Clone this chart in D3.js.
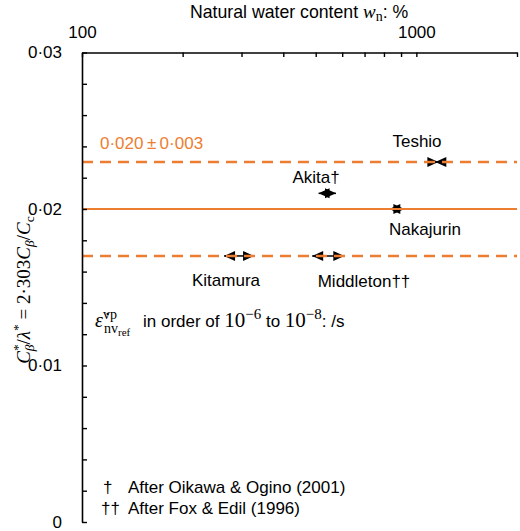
<!DOCTYPE html>
<html>
<head>
<meta charset="utf-8">
<script src="https://cdn.jsdelivr.net/npm/d3@7"></script>
<style>
  body { margin: 0; background: #fff; }
  svg { display: block; }
  text { font-family: "Liberation Sans", Arial, sans-serif; }
  .math { font-family: "Liberation Serif", "Times New Roman", serif; }
</style>
</head>
<body>
<div id="chart"></div>
<script>
// data
const sites = ["Kitamura", "Middleton††", "Nakajurin", "Akita†", "Teshio"]
const wnLow = [266, 488, 830, 510, 1079]     // %
const wnHigh = [327, 609, 921, 575, 1229]    // %
const cbRatio = [0.017, 0.017, 0.020, 0.021, 0.023]
const arrowDir = ["out", "out", "out", "out", "in"]
const meanLine = 0.020
const bandLines = [0.023, 0.017]
const xTickValues = [100, 200, 300, 400, 500, 600, 700, 800, 900, 1000, 2000]
const xTickLabels = [100, 1000]
const yTickValues = d3.range(0, 16).map(i => i * 0.002)
const yTickLabels = [0, 0.01, 0.02, 0.03]

const W = 520, H = 531
const mLeft = 82, mRight = 517, mTop = 52.5, mBottom = 522
const orange = "#ED7D31"
const fs = 17

const svg = d3.select("#chart").append("svg")
  .attr("width", W)
  .attr("height", H)

const x = d3.scaleLog().domain([100, 2000]).range([mLeft, mRight])
const y = d3.scaleLinear().domain([0, 0.03]).range([mBottom, mTop])

// markers: range of wn drawn as a double arrow
const arrowLen = 11, arrowHalf = 5
const markers = svg.append("g")
sites.forEach((s, i) => {
  const x1 = x(wnLow[i]), x2 = x(wnHigh[i]), cy = y(cbRatio[i])
  markers.append("line")
    .attr("x1", x1).attr("x2", x2).attr("y1", cy).attr("y2", cy)
    .attr("stroke", "#000").attr("stroke-width", 1.5)
  let heads
  if (arrowDir[i] === "out") {
    heads = [[x1, x1 + arrowLen], [x2, x2 - arrowLen]]
  } else {
    heads = [[x1 + arrowLen, x1], [x2 - arrowLen, x2]]
  }
  heads.forEach(([tip, base]) => {
    markers.append("path")
      .attr("d", `M${tip},${cy}L${base},${cy - arrowHalf}L${base},${cy + arrowHalf}Z`)
      .attr("fill", "#000")
  })
})

// mean and band lines
svg.append("line")
  .attr("x1", mLeft).attr("x2", mRight)
  .attr("y1", y(meanLine)).attr("y2", y(meanLine))
  .attr("stroke", orange).attr("stroke-width", 2.2)

svg.selectAll(".band").data(bandLines).join("line")
  .attr("class", "band")
  .attr("x1", mLeft).attr("x2", mRight)
  .attr("y1", d => y(d)).attr("y2", d => y(d))
  .attr("stroke", orange).attr("stroke-width", 2.4)
  .attr("stroke-dasharray", "11,7")

// axes
const fmtY = d => d === 0 ? "0" : d3.format(".2f")(d).replace(".", "·")

const xAxis = svg.append("g")
  .attr("transform", `translate(0,${mTop})`)
  .call(d3.axisTop(x)
    .tickValues(xTickValues)
    .tickSizeInner(-4.5)
    .tickSizeOuter(0)
    .tickPadding(15)
    .tickFormat(d => xTickLabels.includes(d) ? d : ""))
xAxis.select(".domain").attr("stroke-width", 1.6)
xAxis.selectAll(".tick line").attr("stroke-width", 1.4)
xAxis.selectAll("text").attr("font-size", fs).attr("fill", "#000")
  .attr("font-family", "Liberation Sans, Arial, sans-serif")

const yAxis = svg.append("g")
  .attr("transform", `translate(${mLeft},0)`)
  .call(d3.axisLeft(y)
    .tickValues(yTickValues)
    .tickSizeInner(-5)
    .tickSizeOuter(0)
    .tickPadding(20)
    .tickFormat(d => yTickLabels.some(v => Math.abs(v - d) < 1e-9) ? fmtY(d) : ""))
yAxis.select(".domain").attr("stroke-width", 1.6)
yAxis.selectAll(".tick line").attr("stroke-width", 1.4)
yAxis.selectAll("text").attr("font-size", fs).attr("fill", "#000")
  .attr("font-family", "Liberation Sans, Arial, sans-serif")

// x title
const xt = svg.append("text")
  .attr("x", 190).attr("y", 18)
  .attr("font-size", 17.7)
xt.append("tspan").text("Natural water content ")
xt.append("tspan").attr("class", "math").attr("font-style", "italic").attr("font-size", 19).text("w")
xt.append("tspan").attr("class", "math").attr("font-size", 14).attr("dy", 3).text("n")
xt.append("tspan").attr("dy", -3).text(": %")

// y title
const yt = svg.append("text")
  .attr("class", "math")
  .attr("transform", `translate(30,290) rotate(-90)`)
  .attr("text-anchor", "middle")
  .attr("font-size", 19)
yt.append("tspan").attr("font-style", "italic").text("C")
yt.append("tspan").attr("font-size", 13.5).attr("dy", -8).text("*")
yt.append("tspan").attr("font-style", "italic").attr("font-size", 13.5).attr("dx", -7).attr("dy", 12).text("β")
yt.append("tspan").attr("dy", -4).text("/")
yt.append("tspan").attr("font-style", "italic").text("λ")
yt.append("tspan").attr("font-size", 13.5).attr("dy", -8).text("*")
yt.append("tspan").attr("dy", 8).text(" = 2·303")
yt.append("tspan").attr("font-style", "italic").text("C")
yt.append("tspan").attr("font-style", "italic").attr("font-size", 13.5).attr("dy", 4).text("β")
yt.append("tspan").attr("dy", -4).text("/")
yt.append("tspan").attr("font-style", "italic").text("C")
yt.append("tspan").attr("font-size", 13.5).attr("dy", 4).text("c")

// site labels
const labelPos = [[226, 286], [364, 287], [425, 235], [316, 183], [417, 147]]
svg.selectAll(".site").data(sites).join("text")
  .attr("class", "site")
  .attr("x", (d, i) => labelPos[i][0])
  .attr("y", (d, i) => labelPos[i][1])
  .attr("text-anchor", "middle")
  .attr("font-size", fs)
  .text(d => d)

// band label
svg.append("text")
  .attr("x", 100).attr("y", 149)
  .attr("font-size", fs)
  .attr("fill", orange)
  .text("0·020\u2009±\u20090·003")

// strain rate note
const eps = svg.append("text").attr("class", "math").attr("x", 95).attr("y", 327)
eps.append("tspan").attr("font-style", "italic").attr("font-size", 20).text("ε\u0307")
eps.append("tspan").attr("font-size", 14).attr("dy", -8).text("vp")
eps.append("tspan").attr("font-size", 14).attr("x", 104).attr("dy", 14).text("nv")
eps.append("tspan").attr("font-size", 11).attr("dy", 3).text("ref")

const note = svg.append("text").attr("x", 143).attr("y", 327).attr("font-size", fs)
note.append("tspan").text("in order of ")
note.append("tspan").attr("class", "math").attr("font-size", 21).text("10")
note.append("tspan").attr("class", "math").attr("font-size", 15).attr("dy", -8).text("−6")
note.append("tspan").attr("dy", 8).text(" to ")
note.append("tspan").attr("class", "math").attr("font-size", 21).text("10")
note.append("tspan").attr("class", "math").attr("font-size", 15).attr("dy", -8).text("−8")
note.append("tspan").attr("dy", 8).text(": /s")

// footnotes
svg.append("text").attr("x", 103).attr("y", 493).attr("font-size", fs).text("†")
svg.append("text").attr("x", 128).attr("y", 493).attr("font-size", fs).text("After Oikawa & Ogino (2001)")
svg.append("text").attr("x", 101).attr("y", 514).attr("font-size", fs).text("††")
svg.append("text").attr("x", 128).attr("y", 514).attr("font-size", fs).text("After Fox & Edil (1996)")
</script>
</body>
</html>
